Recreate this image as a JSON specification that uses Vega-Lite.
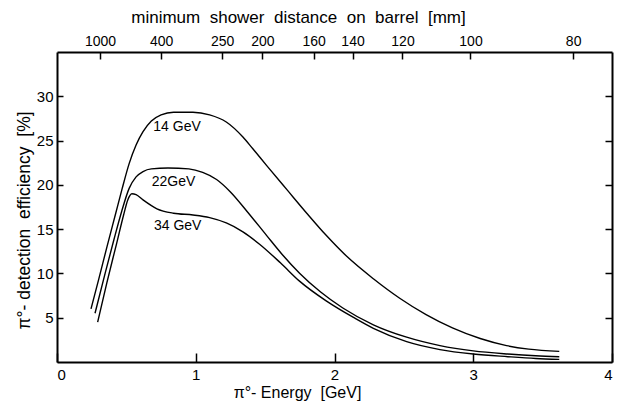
{
  "$schema": "https://vega.github.io/schema/vega-lite/v6.json",
  "width": 555,
  "height": 310,
  "autosize": "none",
  "padding": {"left": 57, "top": 52, "right": 6, "bottom": 41},
  "background": "white",
  "config": {
    "view": {"stroke": null},
    "font": "Liberation Sans",
    "axis": {
      "grid": false,
      "domainColor": "black",
      "domainWidth": 2,
      "tickColor": "black",
      "tickWidth": 1.5,
      "labelColor": "black",
      "titleColor": "black",
      "labelFont": "Liberation Sans",
      "titleFont": "Liberation Sans",
      "titleFontWeight": "normal"
    }
  },
  "datasets": {
    "curves": [
      {"series": "14", "E": 0.245, "eff": 6.0},
      {"series": "14", "E": 0.30, "eff": 9.3},
      {"series": "14", "E": 0.36, "eff": 13.0},
      {"series": "14", "E": 0.42, "eff": 16.6},
      {"series": "14", "E": 0.47, "eff": 19.6},
      {"series": "14", "E": 0.52, "eff": 22.4},
      {"series": "14", "E": 0.57, "eff": 24.5},
      {"series": "14", "E": 0.62, "eff": 26.0},
      {"series": "14", "E": 0.68, "eff": 27.2},
      {"series": "14", "E": 0.75, "eff": 27.9},
      {"series": "14", "E": 0.84, "eff": 28.2},
      {"series": "14", "E": 0.98, "eff": 28.2},
      {"series": "14", "E": 1.10, "eff": 27.9},
      {"series": "14", "E": 1.22, "eff": 27.1},
      {"series": "14", "E": 1.34, "eff": 25.4},
      {"series": "14", "E": 1.41, "eff": 24.1},
      {"series": "14", "E": 1.51, "eff": 22.2},
      {"series": "14", "E": 1.66, "eff": 19.4},
      {"series": "14", "E": 1.80, "eff": 16.8},
      {"series": "14", "E": 1.94, "eff": 14.3},
      {"series": "14", "E": 2.09, "eff": 11.9},
      {"series": "14", "E": 2.28, "eff": 9.4},
      {"series": "14", "E": 2.47, "eff": 7.2},
      {"series": "14", "E": 2.66, "eff": 5.35},
      {"series": "14", "E": 2.85, "eff": 3.85},
      {"series": "14", "E": 3.05, "eff": 2.65},
      {"series": "14", "E": 3.24, "eff": 1.85},
      {"series": "14", "E": 3.40, "eff": 1.45},
      {"series": "14", "E": 3.62, "eff": 1.2},
      {"series": "22", "E": 0.274, "eff": 5.5},
      {"series": "22", "E": 0.35, "eff": 10.2},
      {"series": "22", "E": 0.41, "eff": 13.8},
      {"series": "22", "E": 0.466, "eff": 17.0},
      {"series": "22", "E": 0.52, "eff": 19.6},
      {"series": "22", "E": 0.57, "eff": 20.9},
      {"series": "22", "E": 0.62, "eff": 21.5},
      {"series": "22", "E": 0.68, "eff": 21.8},
      {"series": "22", "E": 0.80, "eff": 21.9},
      {"series": "22", "E": 0.95, "eff": 21.8},
      {"series": "22", "E": 1.05, "eff": 21.4},
      {"series": "22", "E": 1.15, "eff": 20.6},
      {"series": "22", "E": 1.25, "eff": 19.2},
      {"series": "22", "E": 1.37, "eff": 17.0},
      {"series": "22", "E": 1.51, "eff": 14.3},
      {"series": "22", "E": 1.62, "eff": 12.2},
      {"series": "22", "E": 1.75, "eff": 10.0},
      {"series": "22", "E": 1.90, "eff": 7.9},
      {"series": "22", "E": 2.06, "eff": 6.1},
      {"series": "22", "E": 2.28, "eff": 4.2},
      {"series": "22", "E": 2.52, "eff": 2.8},
      {"series": "22", "E": 2.76, "eff": 1.85},
      {"series": "22", "E": 3.00, "eff": 1.25},
      {"series": "22", "E": 3.25, "eff": 0.9},
      {"series": "22", "E": 3.45, "eff": 0.7},
      {"series": "22", "E": 3.62, "eff": 0.6},
      {"series": "34", "E": 0.293, "eff": 4.5},
      {"series": "34", "E": 0.36, "eff": 9.0},
      {"series": "34", "E": 0.43, "eff": 13.4},
      {"series": "34", "E": 0.48, "eff": 16.6},
      {"series": "34", "E": 0.51, "eff": 18.3},
      {"series": "34", "E": 0.54, "eff": 19.0},
      {"series": "34", "E": 0.57, "eff": 18.9},
      {"series": "34", "E": 0.62, "eff": 18.3},
      {"series": "34", "E": 0.72, "eff": 17.3},
      {"series": "34", "E": 0.84, "eff": 16.8},
      {"series": "34", "E": 0.98, "eff": 16.6},
      {"series": "34", "E": 1.10, "eff": 16.3},
      {"series": "34", "E": 1.22, "eff": 15.7},
      {"series": "34", "E": 1.34, "eff": 14.7},
      {"series": "34", "E": 1.46, "eff": 13.3},
      {"series": "34", "E": 1.61, "eff": 11.2},
      {"series": "34", "E": 1.75, "eff": 9.1},
      {"series": "34", "E": 1.94, "eff": 6.9},
      {"series": "34", "E": 2.14, "eff": 5.0},
      {"series": "34", "E": 2.28, "eff": 3.8},
      {"series": "34", "E": 2.52, "eff": 2.3},
      {"series": "34", "E": 2.76, "eff": 1.4},
      {"series": "34", "E": 3.00, "eff": 0.9},
      {"series": "34", "E": 3.25, "eff": 0.6},
      {"series": "34", "E": 3.45, "eff": 0.4},
      {"series": "34", "E": 3.62, "eff": 0.3}
    ],
    "labels": [
      {"text": "14 GeV", "E": 0.865, "eff": 26.5},
      {"text": "22GeV", "E": 0.84, "eff": 20.3},
      {"text": "34 GeV", "E": 0.87, "eff": 15.3}
    ]
  },
  "layer": [
    {
      "data": {"name": "curves"},
      "mark": {"type": "line", "color": "black", "strokeWidth": 1.4, "interpolate": "monotone"},
      "encoding": {
        "x": {
          "field": "E", "type": "quantitative",
          "scale": {"domain": [0, 4], "nice": false, "zero": false},
          "axis": {
            "orient": "bottom", "values": [0, 1, 2, 3, 4], "format": "d",
            "tickSize": -9, "labelPadding": 14, "labelFontSize": 15,
            "title": "π°- Energy \u00a0[GeV]", "titleFontSize": 16,
            "titleX": 240, "titleY": 30, "titleAnchor": null, "titleAlign": "center", "titleBaseline": "middle"
          }
        },
        "y": {
          "field": "eff", "type": "quantitative",
          "scale": {"domain": [0, 35], "nice": false, "zero": false},
          "axis": {
            "orient": "left", "values": [5, 10, 15, 20, 25, 30],
            "tickSize": -6, "labelPadding": 10, "labelFontSize": 15,
            "title": "π°- detection \u00a0efficiency \u00a0[%]", "titleFontSize": 17.5,
            "titleX": -33, "titleY": 168, "titleAngle": 270, "titleAnchor": null, "titleAlign": "center", "titleBaseline": "middle"
          }
        },
        "detail": {"field": "series"}
      }
    },
    {
      "data": {"name": "labels"},
      "mark": {"type": "text", "fontSize": 14, "color": "black", "align": "center", "baseline": "middle", "font": "Liberation Sans"},
      "encoding": {
        "x": {
          "field": "E", "type": "quantitative",
          "scale": {"domain": [0, 4], "nice": false, "zero": false},
          "axis": {
            "orient": "top",
            "values": [0.31, 0.75, 1.19, 1.48, 1.85, 2.13, 2.49, 2.98, 3.72],
            "labelExpr": "datum.value < 0.5 ? '1000' : datum.value < 1 ? '400' : datum.value < 1.3 ? '250' : datum.value < 1.6 ? '200' : datum.value < 2 ? '160' : datum.value < 2.3 ? '140' : datum.value < 2.7 ? '120' : datum.value < 3.3 ? '100' : '80'",
            "tickSize": -7, "labelPadding": 11, "labelFontSize": 14,
            "title": "minimum \u00a0shower \u00a0distance \u00a0on \u00a0barrel \u00a0[mm]", "titleFontSize": 17,
            "titleX": 241, "titleY": -35, "titleAnchor": null, "titleAlign": "center", "titleBaseline": "middle"
          }
        },
        "y": {
          "field": "eff", "type": "quantitative",
          "scale": {"domain": [0, 35], "nice": false, "zero": false},
          "axis": {
            "orient": "right", "values": [5, 10, 15, 20, 25, 30],
            "tickSize": -7, "labels": false, "title": null
          }
        },
        "text": {"field": "text"}
      }
    }
  ],
  "resolve": {"scale": {"x": "independent", "y": "independent"}, "axis": {"x": "independent", "y": "independent"}}
}
